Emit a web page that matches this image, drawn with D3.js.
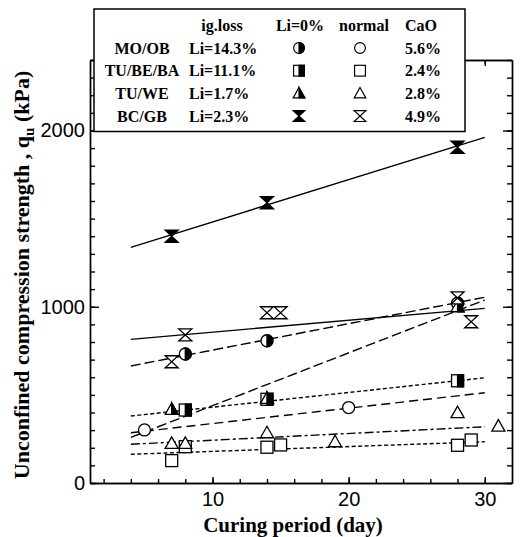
<!DOCTYPE html>
<meta charset="UTF-8">
<html>
	<head>
		<script src="https://d3js.org/d3.v7.min.js"></script>
		<style>
			body { margin: 0; background: #fff; }
			.Axis path, .Axis line { stroke: #000; stroke-width: 1.4px; }
			.Axis text { font: 20px "Liberation Sans", Arial, sans-serif; fill: #000; }
			.Title { font: bold 21px "Liberation Serif", "Times New Roman", serif; fill: #000; }
			.Legend text { font: bold 16px "Liberation Serif", "Times New Roman", serif; fill: #000; }
		</style>
	</head>
	<body>
		<svg class="Chart"></svg>
		<script type="text/javascript">
			// legend rows
			var SeriesNames = ["MO/OB", "TU/BE/BA", "TU/WE", "BC/GB"];
			var IgLoss = ["Li=14.3%", "Li=11.1%", "Li=1.7%", "Li=2.3%"];
			var CaO = ["5.6%", "2.4%", "2.8%", "4.9%"];

			// measured points (day, qu kPa)
			var MoobLiDays = [8, 14, 28];
			var MoobLiQu = [732, 807, 1020];
			var MoobNormDays = [5, 20];
			var MoobNormQu = [301, 428];
			var TubeLiDays = [8, 14, 28];
			var TubeLiQu = [414, 475, 580];
			var TubeNormDays = [7, 8, 14, 15, 28, 29];
			var TubeNormQu = [127, 206, 203, 216, 214, 244];
			var TuweLiDays = [7, 14, 28];
			var TuweLiQu = [418, 480, 1000];
			var TuweNormDays = [7, 8, 14, 19, 28, 31];
			var TuweNormQu = [225, 225, 285, 234, 399, 323];
			var BcgbLiDays = [7, 14, 28];
			var BcgbLiQu = [1400, 1590, 1905];
			var BcgbNormDays = [7, 8, 14, 15, 28, 29];
			var BcgbNormQu = [688, 840, 966, 966, 1050, 915];

			// fitted lines, qu at start and end day
			var FitDays = [4, 30];
			var MoobLiFit = [664, 1054];
			var MoobNormFit = [285, 512];
			var TubeLiFit = [380, 597];
			var TubeNormFit = [163, 234];
			var TuweLiFit = [259, 1038];
			var TuweNormFit = [220, 319];
			var BcgbLiFit = [1337, 1961];
			var BcgbNormFit = [815, 991];

			var XTicks = [10, 20, 30];
			var YTicks = [0, 1000, 2000];

			var Series = [
				{"Days":MoobLiDays, "Qu":MoobLiQu, "Fit":MoobLiFit, "Marker":"halfCircle", "Dash":"10,4"},
				{"Days":MoobNormDays, "Qu":MoobNormQu, "Fit":MoobNormFit, "Marker":"circle", "Dash":"9,5"},
				{"Days":TubeLiDays, "Qu":TubeLiQu, "Fit":TubeLiFit, "Marker":"halfSquare", "Dash":"4,2.5"},
				{"Days":TubeNormDays, "Qu":TubeNormQu, "Fit":TubeNormFit, "Marker":"square", "Dash":"4,2.5"},
				{"Days":TuweLiDays, "Qu":TuweLiQu, "Fit":TuweLiFit, "Marker":"halfTriangle", "Dash":"10,4"},
				{"Days":TuweNormDays, "Qu":TuweNormQu, "Fit":TuweNormFit, "Marker":"triangle", "Dash":"9,3,3,3"},
				{"Days":BcgbLiDays, "Qu":BcgbLiQu, "Fit":BcgbLiFit, "Marker":"hourglassFilled", "Dash":null},
				{"Days":BcgbNormDays, "Qu":BcgbNormQu, "Fit":BcgbNormFit, "Marker":"hourglass", "Dash":null}
			];
			var LegendMarkers = [["halfCircle","circle"], ["halfSquare","square"], ["halfTriangle","triangle"], ["hourglassFilled","hourglass"]];

			var Width = 525, Height = 537;
			var Left = 90, Right = 512, Top = 60, Bottom = 483;

			var XScale = d3.scaleLinear().domain([1, 32]).range([Left, Right]);
			var YScale = d3.scaleLinear().domain([0, 2400]).range([Bottom, Top]);

			var Svg = d3.select(".Chart").attr("width", Width).attr("height", Height);

			// draws one marker into g, centred at 0,0
			function DrawMarker(g, Type)
			{
				var g2 = g.append("g").attr("stroke", "#000").attr("stroke-width", 1.3);
				if(Type == "circle" || Type == "halfCircle")
				{
					g2.append("circle").attr("r", 6).attr("fill", "#fff");
					if(Type == "halfCircle")
						g2.append("path").attr("d", "M0,-6A6,6 0 0 1 0,6Z").attr("fill", "#000");
				}
				else if(Type == "square" || Type == "halfSquare")
				{
					g2.append("rect").attr("x", -6).attr("y", -6).attr("width", 12).attr("height", 12).attr("fill", "#fff");
					if(Type == "halfSquare")
						g2.append("rect").attr("x", 0).attr("y", -6).attr("width", 6).attr("height", 12).attr("fill", "#000");
				}
				else if(Type == "triangle" || Type == "halfTriangle")
				{
					g2.append("path").attr("d", "M0,-6.5L6.5,5L-6.5,5Z").attr("fill", "#fff").attr("stroke-linejoin", "miter");
					if(Type == "halfTriangle")
						g2.append("path").attr("d", "M0,-6.5L6.5,5L0,5Z").attr("fill", "#000");
				}
				else
				{
					g2.append("path").attr("d", "M-6.5,-6L6.5,-6L-6.5,6L6.5,6Z")
						.attr("fill", Type == "hourglassFilled" ? "#000" : "#fff");
				}
			}

			// axes: ticks pointing inward on all four sides
			var MinorX = d3.range(2, 32, 2);
			var MinorY = d3.range(0, 2401, 100);

			Svg.append("g").attr("class", "Axis").attr("transform", "translate(0," + Bottom + ")")
				.call(d3.axisBottom(XScale).tickValues(MinorX).tickSizeInner(-4).tickSizeOuter(0).tickFormat(""));
			Svg.append("g").attr("class", "Axis").attr("transform", "translate(0," + Bottom + ")")
				.call(d3.axisBottom(XScale).tickValues(XTicks).tickSizeInner(-6).tickSizeOuter(0).tickPadding(9).tickFormat(d3.format("d")));
			Svg.append("g").attr("class", "Axis").attr("transform", "translate(0," + Top + ")")
				.call(d3.axisTop(XScale).tickValues(MinorX).tickSizeInner(-4).tickSizeOuter(0).tickFormat(""));
			Svg.append("g").attr("class", "Axis").attr("transform", "translate(0," + Top + ")")
				.call(d3.axisTop(XScale).tickValues(XTicks).tickSizeInner(-6).tickSizeOuter(0).tickFormat(""));

			Svg.append("g").attr("class", "Axis").attr("transform", "translate(" + Left + ",0)")
				.call(d3.axisLeft(YScale).tickValues(MinorY).tickSizeInner(-5).tickSizeOuter(0).tickFormat(""));
			Svg.append("g").attr("class", "Axis").attr("transform", "translate(" + Left + ",0)")
				.call(d3.axisLeft(YScale).tickValues(YTicks).tickSizeInner(-9).tickSizeOuter(0).tickPadding(5).tickFormat(d3.format("d")));
			Svg.append("g").attr("class", "Axis").attr("transform", "translate(" + Right + ",0)")
				.call(d3.axisRight(YScale).tickValues(MinorY).tickSizeInner(-5).tickSizeOuter(0).tickFormat(""));
			Svg.append("g").attr("class", "Axis").attr("transform", "translate(" + Right + ",0)")
				.call(d3.axisRight(YScale).tickValues(YTicks).tickSizeInner(-9).tickSizeOuter(0).tickFormat(""));

			// fitted lines
			Svg.append("g").selectAll("line")
				.data(Series)
				.enter()
				.append("line")
				.attr("x1", XScale(FitDays[0]))
				.attr("x2", XScale(FitDays[1]))
				.attr("y1", function(d){ return YScale(d.Fit[0]); })
				.attr("y2", function(d){ return YScale(d.Fit[1]); })
				.attr("stroke", "#000")
				.attr("stroke-width", 1.4)
				.attr("stroke-dasharray", function(d){ return d.Dash; });

			// markers
			Series.forEach(function(S)
			{
				S.Days.forEach(function(Day, i)
				{
					var g = Svg.append("g").attr("transform", "translate(" + XScale(Day) + "," + YScale(S.Qu[i]) + ")");
					DrawMarker(g, S.Marker);
				});
			});

			// titles
			Svg.append("text").attr("class", "Title")
				.attr("x", 293).attr("y", 532)
				.attr("text-anchor", "middle")
				.text("Curing period (day)");

			var YTitle = Svg.append("text").attr("class", "Title")
				.attr("transform", "translate(29,275) rotate(-90)")
				.attr("text-anchor", "middle")
				.style("font-size", "22px");
			YTitle.append("tspan").text("Unconfined compression strength , q");
			YTitle.append("tspan").attr("font-size", "15px").attr("dy", 5).text("u");
			YTitle.append("tspan").attr("dy", -5).text(" (kPa)");

			// legend box
			var Legend = Svg.append("g").attr("class", "Legend");
			Legend.append("rect")
				.attr("x", 94).attr("y", 9).attr("width", 371).attr("height", 122.5)
				.attr("fill", "#fff").attr("stroke", "#000").attr("stroke-width", 1.5);

			Legend.append("text").attr("x", 222).attr("y", 31).attr("text-anchor", "middle").text("ig.loss");
			Legend.append("text").attr("x", 300).attr("y", 31).attr("text-anchor", "middle").text("Li=0%");
			Legend.append("text").attr("x", 364).attr("y", 31).attr("text-anchor", "middle").text("normal");
			Legend.append("text").attr("x", 405).attr("y", 31).text("CaO");

			SeriesNames.forEach(function(Name, i)
			{
				var RowY = 48 + i * 22.7;
				Legend.append("text").attr("x", 142).attr("y", RowY + 5.5).attr("text-anchor", "middle").text(Name);
				Legend.append("text").attr("x", 189).attr("y", RowY + 5.5).text(IgLoss[i]);
				Legend.append("text").attr("x", 405).attr("y", RowY + 5.5).text(CaO[i]);
				DrawMarker(Legend.append("g").attr("transform", "translate(299," + RowY + ") scale(0.9)"), LegendMarkers[i][0]);
				DrawMarker(Legend.append("g").attr("transform", "translate(360," + RowY + ") scale(0.9)"), LegendMarkers[i][1]);
			});
		</script>
	</body>
</html>
